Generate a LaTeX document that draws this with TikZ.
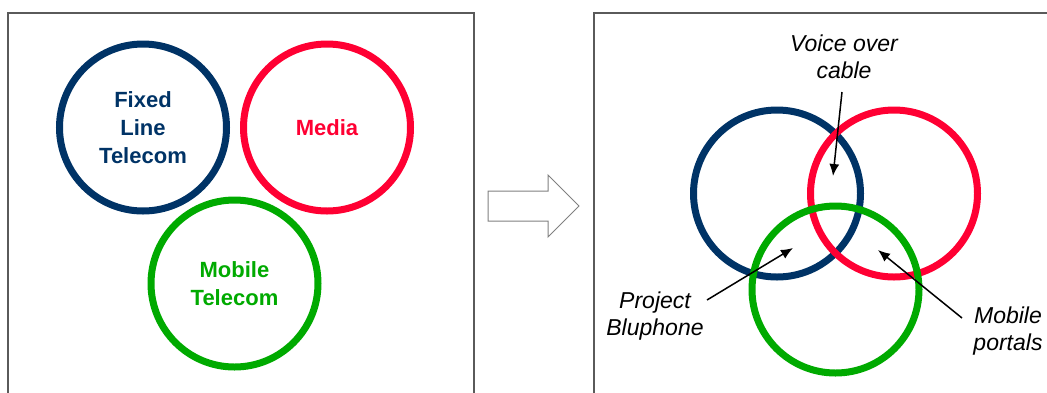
\documentclass[tikz,border=0pt]{standalone}
\usepackage{fontspec}
\setmainfont{Liberation Sans}
\usetikzlibrary{arrows.meta}
\definecolor{fixblue}{RGB}{0,51,102}
\definecolor{medred}{RGB}{255,0,51}
\definecolor{mobgreen}{RGB}{0,170,0}
\definecolor{framegray}{RGB}{90,90,90}
\begin{document}
\begin{tikzpicture}[x=1pt,y=-1pt,
  ring/.style={circle,draw,line width=7pt,minimum size=167pt,inner sep=0pt,align=center,
    font=\fontsize{22}{28}\selectfont\bfseries},
  lbl/.style={align=center,inner sep=0pt,font=\fontsize{23}{27}\selectfont\itshape},
  pointer/.style={line width=1.5pt,-{Latex[length=12pt,width=10pt]}},
  panel/.style={draw=framegray,line width=1.3pt}]
\useasboundingbox (0,0) rectangle (1047,392);
\clip (0,0) rectangle (1047,392);
% panels
\draw[panel] (8,400) -- (8,13) -- (474,13) -- (474,400);
\draw[panel] (594,400) -- (594,13) -- (1060,13) -- (1060,400);
% left circles
\node[ring,draw=fixblue,text=fixblue] (fixed) at (143,127.5) {Fixed\\Line\\Telecom};
\node[ring,draw=medred,text=medred] (media) at (327,127.5) {Media};
\node[ring,draw=mobgreen,text=mobgreen] (mobile) at (234.5,283.5) {Mobile\\Telecom};
% block arrow
\draw[draw=gray,line width=1pt,line join=miter] (488,191) -- (548,191) -- (548,175) -- (579,206)
  -- (548,237) -- (548,221) -- (488,221) -- cycle;
% right circles
\node[ring,draw=fixblue] (fixedR) at (777,193.5) {};
\node[ring,draw=medred] (mediaR) at (894,193.5) {};
\node[ring,draw=mobgreen] (mobileR) at (835.5,289.5) {};
% labels
\node[lbl] (voice) at (844,57) {Voice over\\cable};
\node[lbl] (blu) at (655,316) {Project\\Bluphone};
\node[lbl] (portals) at (1008,331) {Mobile\\portals};
% arrows
\coordinate (voiceS) at (842,92);
\coordinate (voiceT) at (833,176);
\coordinate (bluS) at (707,300);
\coordinate (bluT) at (793,248);
\coordinate (portS) at (962,318);
\coordinate (portT) at (878,250);
\draw[pointer] (voiceS) -- (voiceT);
\draw[pointer] (bluS) -- (bluT);
\draw[pointer] (portS) -- (portT);
\end{tikzpicture}
\end{document}
